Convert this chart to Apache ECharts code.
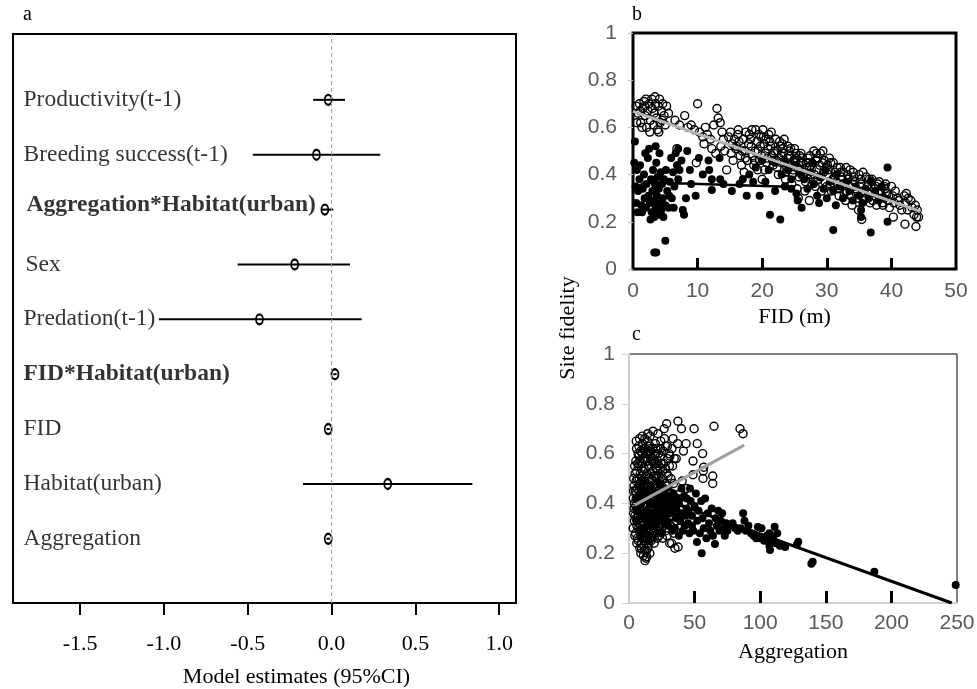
<!DOCTYPE html>
<html><head><meta charset="utf-8">
<script src="https://cdn.jsdelivr.net/npm/echarts@6/dist/echarts.min.js"></script>
<style>html,body{margin:0;padding:0;background:#fff}#c{width:977px;height:689px}</style>
</head><body><div id="c"></div>
<script>
// ---------- Panel a: model estimates (top to bottom) ----------
const termNames = ['Productivity(t-1)','Breeding success(t-1)','Aggregation*Habitat(urban)','Sex','Predation(t-1)','FID*Habitat(urban)','FID','Habitat(urban)','Aggregation'];
const boldTerms = ['Aggregation*Habitat(urban)','FID*Habitat(urban)'];
const estimates = [-0.02,-0.09,-0.04,-0.22,-0.43,0.02,-0.02,0.335,-0.02];
const ciLow     = [-0.11,-0.47,-0.06,-0.56,-1.03,0.01,-0.03,-0.17,-0.03];
const ciHigh    = [ 0.08, 0.29, 0.01, 0.11, 0.18,0.03,-0.01, 0.84,-0.01];
const estTicks  = [-1.5,-1.0,-0.5,0.0,0.5,1.0];

// ---------- Panel b: site fidelity vs FID ----------
const fidOpen = [
[0.5,0.69],[0.8,0.66],[1.0,0.70],[1.2,0.62],[1.5,0.68],[1.7,0.71],[1.9,0.65],[2.1,0.60],[2.3,0.67],[2.5,0.70],[2.7,0.63],[2.9,0.72],[3.0,0.68],[3.2,0.61],[3.3,0.66],[3.5,0.70],[3.6,0.64],[3.8,0.59],[3.9,0.69],[4.1,0.72],[4.2,0.62],[4.4,0.67],[4.6,0.70],[4.8,0.65],[5.0,0.61],[5.2,0.69],[0.6,0.62],[1.4,0.60],[2.0,0.72],[2.6,0.58],[3.4,0.73],[4.0,0.58],[4.5,0.63],[5.5,0.66],[1.1,0.67],[1.8,0.69],
[6.5,0.63],[7.2,0.61],[8.0,0.65],[8.5,0.60],[9.0,0.61],[9.5,0.59],[10.0,0.70],[10.3,0.58],[10.8,0.56],[11.2,0.60],[11.5,0.57],[12.0,0.55],[12.5,0.61],[13.0,0.68],[13.2,0.64],[13.5,0.62],[13.8,0.58],[14.0,0.55],[11.0,0.53],[12.2,0.51],[12.8,0.49],[14.5,0.42],[6.8,0.51],[9.8,0.45],[13.6,0.52],[14.2,0.50],
[15.1,0.58],[15.4,0.53],[15.2,0.49],[15.7,0.55],[15.5,0.46],[16.2,0.57],[16.0,0.52],[16.6,0.48],[16.4,0.54],[16.8,0.44],
[17.1,0.55],[17.3,0.50],[17.5,0.58],[17.7,0.46],[17.2,0.41],[17.9,0.53],[18.0,0.57],[18.3,0.52],[18.5,0.48],[18.2,0.55],[18.7,0.44],[18.9,0.50],
[19.0,0.59],[19.2,0.54],[19.4,0.50],[19.6,0.46],[19.8,0.56],[19.3,0.42],[19.7,0.52],[20.1,0.59],[20.3,0.53],[20.5,0.49],[20.7,0.45],[20.2,0.56],[20.9,0.51],[20.4,0.42],
[21.0,0.57],[21.3,0.52],[21.5,0.48],[21.7,0.44],[21.2,0.54],[21.9,0.50],[21.6,0.46],[22.1,0.55],[22.4,0.50],[22.6,0.47],[22.3,0.43],[22.8,0.52],[22.9,0.48],
[23.1,0.53],[23.3,0.49],[23.5,0.45],[23.7,0.41],[23.2,0.51],[23.9,0.47],[23.6,0.38],[24.0,0.52],[24.3,0.48],[24.5,0.44],[24.7,0.40],[24.2,0.50],[24.9,0.46],[24.6,0.36],
[25.0,0.51],[25.3,0.47],[25.5,0.43],[25.7,0.39],[25.2,0.49],[25.9,0.45],[25.6,0.30],[25.4,0.34],[26.0,0.49],[26.3,0.45],[26.5,0.41],[26.7,0.37],[26.2,0.47],[26.9,0.43],[26.6,0.33],
[27.1,0.47],[27.3,0.43],[27.5,0.40],[27.7,0.36],[27.2,0.45],[27.9,0.38],[28.0,0.50],[28.4,0.49],[28.3,0.46],[28.5,0.42],[28.7,0.38],[28.2,0.35],[28.9,0.44],
[29.0,0.49],[29.3,0.45],[29.5,0.41],[29.7,0.37],[29.2,0.33],[29.9,0.43],[30.1,0.44],[30.3,0.40],[30.5,0.36],[30.7,0.33],[30.2,0.42],[30.9,0.38],
[31.0,0.45],[31.3,0.41],[31.5,0.37],[31.7,0.34],[31.2,0.39],[31.9,0.31],[32.1,0.43],[32.3,0.39],[32.5,0.36],[32.7,0.32],[32.2,0.41],[32.9,0.29],
[33.0,0.43],[33.3,0.38],[33.5,0.35],[33.7,0.31],[33.2,0.40],[33.9,0.27],[34.1,0.41],[34.3,0.37],[34.5,0.34],[34.7,0.30],[34.2,0.39],[34.9,0.25],
[35.0,0.40],[35.3,0.36],[35.5,0.33],[35.7,0.29],[35.2,0.38],[35.4,0.21],[36.1,0.39],[36.3,0.35],[36.5,0.32],[36.7,0.28],[36.9,0.37],
[37.0,0.38],[37.3,0.34],[37.5,0.31],[37.7,0.27],[37.9,0.36],[38.1,0.37],[38.3,0.33],[38.5,0.30],[38.7,0.27],[38.9,0.35],
[39.1,0.36],[39.3,0.32],[39.5,0.29],[39.7,0.26],[40.0,0.35],[40.2,0.31],[40.4,0.28],[40.3,0.22],[41.0,0.30],[41.3,0.27],[41.6,0.25],
[42.0,0.31],[42.3,0.32],[42.2,0.28],[42.5,0.25],[42.1,0.19],[43.0,0.29],[43.2,0.26],[43.5,0.23],[43.8,0.18],[43.9,0.22],[44.0,0.25],[44.2,0.22],[43.7,0.27],
[14.8,0.56],[15.9,0.51],[16.3,0.59],[16.9,0.50],[17.4,0.47],[18.4,0.59],[18.8,0.46],[19.5,0.57],[19.9,0.48],[20.6,0.55],[20.8,0.47],[21.4,0.58],[21.8,0.49],[22.2,0.46],[22.7,0.54],[23.0,0.45],[23.4,0.55],[23.8,0.43],[24.4,0.51],[24.8,0.42],[25.1,0.45],[25.8,0.48],[26.4,0.39],[26.8,0.45],[27.4,0.48],[27.6,0.42],[28.1,0.40],[28.6,0.47],[29.1,0.39],[29.6,0.46],[30.0,0.35],[30.6,0.45],[31.1,0.36],[31.6,0.43],[32.0,0.34],[32.6,0.41],[33.1,0.33],[33.6,0.42],[34.0,0.36],[34.6,0.32],[35.1,0.35],[35.6,0.41],[36.0,0.30],[36.6,0.38],[37.1,0.29],[37.6,0.35],[38.0,0.32],[38.6,0.28],[39.0,0.34],[39.6,0.31],[40.6,0.33],[41.2,0.29],[42.6,0.30],[29.4,0.50],[30.4,0.47],[27.3,0.29],[22.5,0.40],[20.0,0.38]
];
const fidFilled = [
[0.3,0.54],[0.2,0.45],[0.4,0.35],[0.5,0.28],[0.6,0.42],[0.8,0.33],[1.0,0.38],[1.1,0.44],[1.3,0.27],[1.4,0.24],[1.5,0.34],[1.7,0.40],[1.8,0.30],[2.0,0.26],[2.1,0.36],[2.3,0.47],[2.4,0.31],[2.5,0.51],[2.6,0.28],[2.8,0.38],[2.9,0.24],[3.0,0.33],[3.1,0.42],[3.2,0.29],[3.3,0.22],[3.4,0.36],[3.5,0.26],[3.6,0.45],[3.7,0.31],[3.8,0.39],[3.9,0.23],[4.0,0.34],[4.1,0.49],[4.2,0.28],[4.3,0.41],[4.4,0.25],[4.5,0.36],[4.6,0.30],[4.8,0.38],[5.0,0.27],[5.1,0.42],[5.3,0.33],[5.5,0.26],[5.7,0.37],[5.9,0.47],[6.0,0.30],[6.2,0.41],[6.4,0.35],[6.6,0.49],[6.8,0.44],[7.0,0.38],[7.2,0.42],[7.5,0.46],[1.9,0.49],[2.7,0.21],[3.5,0.52],[4.7,0.22],[0.7,0.24],[5.6,0.31],[6.3,0.26],
[3.3,0.07],[3.6,0.07],[5.0,0.12],[7.7,0.25],[7.9,0.23],[8.4,0.50],[8.2,0.30],[7.0,0.51],[8.8,0.42],
[9.7,0.31],[10.2,0.47],[11.7,0.46],[11.8,0.42],[12.2,0.38],[12.2,0.335],[13.4,0.47],[13.5,0.38],[14.0,0.36],[15.3,0.33],[16.5,0.36],[17.6,0.31],[18.6,0.37],[19.6,0.31],[21.2,0.23],[22.8,0.21],[20.5,0.37],[22.0,0.33],[23.5,0.35],[24.5,0.34],[25.3,0.32],[25.5,0.29],[10.8,0.40],[9.0,0.36],
[26.1,0.26],[28.8,0.28],[31.4,0.27],[31.0,0.165],[36.8,0.155],[39.4,0.43],[39.4,0.20],[35.3,0.25],[35.3,0.22],
[26.5,0.38],[27.0,0.34],[27.5,0.41],[28.0,0.36],[28.5,0.31],[29.0,0.39],[29.5,0.34],[30.0,0.30],[30.5,0.37],[31.0,0.33],[31.5,0.40],[32.0,0.35],[32.5,0.30],[33.0,0.37],[33.5,0.33],[34.0,0.29],[34.5,0.35],[35.0,0.31],[35.5,0.28],[36.0,0.34],[36.5,0.30],[37.0,0.37],[37.5,0.33],[38.0,0.29],[38.5,0.35],[39.0,0.30],[24.0,0.42],[25.0,0.44],[23.0,0.40],[22.0,0.45],[21.0,0.42],[20.0,0.46],[19.0,0.43],[18.0,0.40],[17.0,0.38],[26.0,0.40],[27.8,0.45],[29.8,0.42],[24.5,0.38],[23.5,0.46]
];
const fidOpenFit   = [[0,0.668],[44.5,0.244]];
const fidFilledFit = [[0,0.335],[1.5,0.36],[3,0.367],[8,0.362],[25,0.347]];

// ---------- Panel c: site fidelity vs Aggregation ----------
const aggOpen = [
[3.2,0.30],[3.5,0.36],[3.3,0.42],[3.8,0.47],[3.6,0.50],[4.0,0.40],[4.1,0.33],
[5.0,0.28],[5.3,0.34],[5.1,0.39],[5.6,0.44],[5.4,0.49],[5.8,0.53],[5.2,0.57],[5.7,0.62],[5.5,0.65],[6.0,0.31],[6.2,0.46],[6.1,0.37],
[7.0,0.25],[7.3,0.30],[7.1,0.35],[7.6,0.41],[7.4,0.45],[7.8,0.50],[7.2,0.55],[7.7,0.59],[7.5,0.63],[8.0,0.66],[8.2,0.22],[8.1,0.38],[8.3,0.48],
[9.0,0.20],[9.3,0.24],[9.1,0.29],[9.6,0.33],[9.4,0.37],[9.8,0.42],[9.2,0.46],[9.7,0.51],[9.5,0.56],[10.0,0.60],[10.2,0.64],[10.1,0.67],[10.3,0.27],[10.4,0.53],
[11.0,0.19],[11.3,0.23],[11.1,0.28],[11.6,0.32],[11.4,0.36],[11.8,0.40],[11.2,0.44],[11.7,0.49],[11.5,0.54],[12.0,0.58],[12.2,0.62],[12.1,0.66],[12.3,0.47],
[13.0,0.18],[13.3,0.21],[13.1,0.26],[13.6,0.30],[13.4,0.35],[13.8,0.39],[13.2,0.43],[13.7,0.48],[13.5,0.52],[14.0,0.57],[14.2,0.61],[14.1,0.65],[14.3,0.68],
[15.0,0.24],[15.3,0.28],[15.1,0.33],[15.6,0.38],[15.4,0.42],[15.8,0.46],[15.2,0.50],[15.7,0.55],[16.0,0.59],[16.2,0.63],[16.1,0.67],
[17.0,0.26],[17.3,0.31],[17.1,0.36],[17.6,0.40],[17.4,0.45],[17.8,0.49],[18.0,0.53],[18.2,0.58],[18.1,0.62],[18.3,0.69],
[19.0,0.28],[19.3,0.32],[19.1,0.37],[19.6,0.41],[19.4,0.46],[19.8,0.51],[20.0,0.56],[20.2,0.60],[20.1,0.64],
[21.0,0.29],[21.3,0.34],[21.1,0.39],[21.6,0.43],[21.4,0.48],[21.8,0.53],[22.0,0.57],[22.2,0.62],[22.1,0.68],
[23.0,0.27],[23.3,0.33],[23.1,0.38],[23.6,0.44],[23.4,0.49],[23.8,0.54],[24.0,0.59],[24.2,0.65],
[25.0,0.30],[25.5,0.35],[25.2,0.40],[26.0,0.45],[25.8,0.50],[26.4,0.56],[26.2,0.61],[27.0,0.66],[26.8,0.70],
[28.0,0.29],[28.5,0.36],[28.2,0.41],[29.0,0.47],[28.8,0.52],[29.5,0.58],[29.3,0.63],[28.7,0.72],
[31.0,0.24],[31.8,0.31],[31.4,0.38],[32.5,0.44],[32.0,0.50],[33.2,0.55],[32.8,0.62],[33.6,0.66],
[35.0,0.22],[35.8,0.33],[36.4,0.42],[36.0,0.58],[37.0,0.64],[37.3,0.73],
[39.0,0.44],[40.5,0.49],[41.5,0.61],[40.0,0.70],[43.5,0.64],
[48.8,0.57],[49.6,0.70],[56.1,0.60],[56.9,0.545],[56.6,0.53],[63.8,0.51],[63.8,0.48],[64.8,0.71],[84.6,0.70],[86.9,0.68],[56.4,0.50],[48.8,0.515],[32.5,0.24],[37.4,0.225],[13.5,0.186],[52.0,0.64],[44.0,0.46],[42.0,0.40],
[4.5,0.35],[4.8,0.45],[4.6,0.52],[6.5,0.42],[6.7,0.33],[6.9,0.60],[8.5,0.28],[8.7,0.36],[8.9,0.43],[8.6,0.52],[8.8,0.61],[10.6,0.31],[10.8,0.39],[10.7,0.45],[10.5,0.58],[12.5,0.25],[12.7,0.34],[12.6,0.42],[12.8,0.51],[12.9,0.60],[14.5,0.27],[14.7,0.37],[14.6,0.45],[14.8,0.55],[14.9,0.63],[16.5,0.29],[16.7,0.35],[16.6,0.44],[16.8,0.52],[16.4,0.61],[18.6,0.27],[18.8,0.34],[18.5,0.43],[18.7,0.51],[18.9,0.56],[20.5,0.30],[20.7,0.40],[20.6,0.47],[20.8,0.54],[20.4,0.62],[22.5,0.31],[22.7,0.37],[22.6,0.45],[22.8,0.51],[22.4,0.60],[24.5,0.30],[24.7,0.36],[24.6,0.42],[24.8,0.47],[24.4,0.56],[27.0,0.33],[27.4,0.38],[27.2,0.43],[27.6,0.48],[27.8,0.54],[30.0,0.34],[30.5,0.39],[30.2,0.45],[30.8,0.55],[30.4,0.60],[33.0,0.35],[33.5,0.40],[34.0,0.48],[34.5,0.58],[6.3,0.26],[11.9,0.21],[14.4,0.22],[16.9,0.25],[19.2,0.24],[21.5,0.26],[25.5,0.26],[29.0,0.27],[34.0,0.28],[38.5,0.30],[37.0,0.36],[39.5,0.38],
[3.4,0.45],[3.9,0.38],[4.3,0.55],[4.4,0.27],[5.9,0.24],[6.4,0.50],[6.6,0.56],[7.9,0.32],[8.4,0.57],[9.9,0.49],[10.9,0.62],[11.6,0.26],[12.4,0.39],[13.9,0.33],[14.0,0.46],[15.5,0.61],[16.3,0.32],[17.5,0.57],[17.9,0.28],[18.4,0.47],[19.7,0.59],[20.3,0.35],[21.2,0.51],[21.9,0.41],[22.9,0.55],[23.5,0.29],[24.1,0.62],[25.7,0.53],[26.6,0.37],[27.9,0.63],[28.4,0.45],[29.8,0.51],[31.2,0.59],[32.2,0.35],[12.2,0.17],[15.9,0.20],[9.6,0.22]
];
const aggFilled = [
[6,0.38],[8,0.42],[10,0.35],[12,0.45],[14,0.31],[16,0.40],[18,0.36],[20,0.44],[22,0.33],[24,0.39],[26,0.43],[28,0.35],[30,0.41],[32,0.37],[34,0.44],[36,0.34],[38,0.40],[40,0.46],[9,0.27],[15,0.25],[25,0.28],[35,0.30],[30,0.31],
[12,0.30],[17,0.33],[21,0.37],[27,0.32],[31,0.36],[33,0.29],[36,0.38],[39,0.33],[41,0.29],[43,0.35],[46,0.28],[48,0.31],[38,0.27],[44,0.42],[40,0.36],
[5,0.42],[5.5,0.33],[7,0.47],[7.5,0.29],[9.5,0.40],[11,0.49],[11.5,0.34],[13,0.37],[13.5,0.44],[15.5,0.35],[16.5,0.47],[18.5,0.31],[19,0.40],[20.5,0.34],[22.5,0.42],[23,0.48],[24.5,0.35],[26.5,0.38],[27.5,0.46],[29,0.33],[31.5,0.43],[33.5,0.39],[35.5,0.42],[37.5,0.35],[39,0.42],[42.5,0.31],[45.5,0.36],[10.5,0.43],[14.5,0.41],[19.5,0.36],[25.5,0.41],[29.5,0.38],
[42,0.43],[44,0.38],[45,0.32],[46.5,0.46],[47,0.41],[48,0.35],[49,0.29],[50,0.39],[51,0.44],[51.8,0.245],[52,0.33],[53,0.37],[54,0.28],[55,0.41],[55.4,0.20],[56,0.34],[57,0.30],[58,0.42],[59,0.26],[60,0.36],[61,0.32],[62,0.29],[63,0.38],[64,0.27],[65.5,0.237],[66,0.34],[67,0.31],[68,0.37],[69,0.29],[70,0.33],[71,0.36],[72,0.30],[73,0.27],[74,0.32],[75,0.29],[77,0.31],[79,0.32],[81,0.30],[83,0.29],[85,0.30],[87,0.36],[88,0.33],[89,0.29],[91,0.31],[93,0.28],[95,0.27],[97,0.26],[98.2,0.305],[100,0.26],[101,0.30],[103,0.25],[105,0.27],[107,0.28],[107,0.23],[107.5,0.213],[108,0.25],[110,0.26],[111,0.306],[112,0.24],[113,0.28],[115,0.23],[119,0.225],[129,0.246],[128,0.235],[140,0.166],[139,0.158],[187,0.126],[249,0.072]
];
const aggOpenFit   = [[4.3,0.393],[87.8,0.634]];
const aggFilledFit = [[30,0.41],[246,0]];

// ---------- build ----------
const SERIF = 'Liberation Serif';
const SANS = 'Liberation Sans';
const yTop = 10.2, yBot = -0.17;
const rowY = termNames.map((n,i)=>termNames.length - i);

const chart = echarts.init(document.getElementById('c'), null, {renderer:'canvas'});
const openStyle = {color:'rgba(0,0,0,0)', borderColor:'#000', borderWidth:1.4, opacity:1};
const filledStyle = {color:'#000', opacity:1};
const greyLabel = {color:'#595959', fontFamily:SANS, fontSize:21};
const gridBase = {show:true, borderColor:'#000', backgroundColor:'rgba(0,0,0,0)', containLabel:false, outerBoundsMode:'none'};

const option = {
  animation:false,
  backgroundColor:'#fff',
  grid:[
    Object.assign({left:13, top:34, width:503, height:569, borderWidth:2}, gridBase),
    Object.assign({left:633, top:33, width:323, height:236, borderWidth:3}, gridBase),
    Object.assign({left:629, top:354, width:328, height:249, borderWidth:1}, gridBase)
  ],
  xAxis:[
    {gridIndex:0, type:'value', position:'bottom', min:-1.9, max:1.1, splitLine:{show:false},
     axisLine:{show:true, onZero:false, lineStyle:{color:'#000', width:2}},
     axisTick:{show:true, inside:false, customValues:estTicks, length:12, lineStyle:{color:'#000', width:2}},
     axisLabel:{customValues:estTicks, margin:30, color:'#000', fontFamily:SERIF, fontSize:22, formatter:v=>v.toFixed(1)},
     name:'Model estimates (95%CI)', nameLocation:'middle', nameGap:63,
     nameTextStyle:{color:'#000', fontFamily:SERIF, fontSize:22, padding:[0,0,0,64]}},
    {gridIndex:1, type:'value', min:0, max:50, interval:10, splitLine:{show:false},
     axisLine:{show:false, onZero:false},
     axisTick:{show:true, inside:true, customValues:[10,20,30,40], length:11, lineStyle:{color:'#000', width:3}},
     axisLabel:Object.assign({margin:12}, greyLabel),
     name:'FID (m)', nameLocation:'middle', nameGap:37,
     nameTextStyle:{color:'#000', fontFamily:SERIF, fontSize:22}},
    {gridIndex:2, type:'value', min:0, max:250, interval:50, splitLine:{show:false},
     axisLine:{show:true, onZero:false, lineStyle:{color:'#d0d0d0', width:2}},
     axisTick:{show:true, inside:true, customValues:[50,100,150,200], length:12, lineStyle:{color:'#000', width:3}},
     axisLabel:Object.assign({margin:10}, greyLabel),
     name:'Aggregation', nameLocation:'middle', nameGap:38,
     nameTextStyle:{color:'#000', fontFamily:SERIF, fontSize:22}}
  ],
  yAxis:[
    {gridIndex:0, type:'value', min:yBot, max:yTop, show:false},
    {gridIndex:1, type:'value', min:0, max:1, interval:0.2, splitLine:{show:false},
     axisLine:{show:false, onZero:false},
     axisTick:{show:true, length:5, lineStyle:{color:'#bfbfbf', width:1}},
     axisLabel:Object.assign({margin:16, formatter:v=>String(+v.toFixed(1))}, greyLabel)},
    {gridIndex:2, type:'value', min:0, max:1, interval:0.2, splitLine:{show:false},
     axisLine:{show:true, onZero:false, lineStyle:{color:'#d0d0d0', width:2}},
     axisTick:{show:true, length:7, lineStyle:{color:'#d0d0d0', width:1}},
     axisLabel:Object.assign({margin:14, formatter:v=>String(+v.toFixed(1))}, greyLabel)}
  ],
  graphic:[
    {type:'text', left:23, top:5, style:{text:'a', font:'20px "'+SERIF+'"', fill:'#000'}},
    {type:'text', left:632, top:5, style:{text:'b', font:'20px "'+SERIF+'"', fill:'#000'}},
    {type:'text', left:632, top:325, style:{text:'c', font:'20px "'+SERIF+'"', fill:'#000'}},
    {type:'text', x:568, y:328, rotation:Math.PI/2,
     style:{text:'Site fidelity', font:'22px "'+SERIF+'"', fill:'#000', align:'center', verticalAlign:'middle'}}
  ],
  series:[
    {type:'line', xAxisIndex:0, yAxisIndex:0, data:[[0,yBot],[0,yTop]], symbol:'none', silent:true,
     lineStyle:{color:'#9a9a9a', width:1, type:[4,3]}},
    {type:'custom', xAxisIndex:0, yAxisIndex:0, silent:true,
     data:termNames.map((n,i)=>[ciLow[i], ciHigh[i], rowY[i]]),
     encode:{x:[0,1], y:2},
     renderItem:(params, api)=>{
       const a = api.coord([api.value(0), api.value(2)]);
       const b = api.coord([api.value(1), api.value(2)]);
       return {type:'line', shape:{x1:a[0], y1:a[1], x2:b[0], y2:b[1]}, style:{stroke:'#000', lineWidth:2}};
     }},
    {type:'scatter', xAxisIndex:0, yAxisIndex:0, silent:true,
     data:termNames.map((n,i)=>[estimates[i], rowY[i]]),
     symbol:'circle', symbolSize:[7,10], itemStyle:{color:'rgba(0,0,0,0)', borderColor:'#000', borderWidth:2, opacity:1}},
    {type:'scatter', xAxisIndex:0, yAxisIndex:0, silent:true, clip:false,
     symbolSize:1, itemStyle:{color:'rgba(0,0,0,0)'},
     data:termNames.map((n,i)=>({value:[-1.9, rowY[i]], name:n,
       label:{fontWeight: boldTerms.includes(n) ? 'bold' : 'normal', offset: i===2 ? [3,-5] : (i===3 ? [2,0] : [0,0])}})),
     label:{show:true, position:'right', distance:10, formatter:p=>p.name, color:'#000', fontFamily:SERIF, fontSize:23.5}},
    {type:'scatter', xAxisIndex:1, yAxisIndex:1, data:fidFilled, symbolSize:8, itemStyle:filledStyle, silent:true},
    {type:'scatter', xAxisIndex:1, yAxisIndex:1, data:fidOpen, symbolSize:8, itemStyle:openStyle, silent:true},
    {type:'line', xAxisIndex:1, yAxisIndex:1, data:fidOpenFit, symbol:'none', lineStyle:{color:'#b4b4b4', width:3}, silent:true},
    {type:'line', xAxisIndex:1, yAxisIndex:1, data:fidFilledFit, symbol:'none', smooth:true, lineStyle:{color:'#000', width:2.5}, silent:true},
    {type:'scatter', xAxisIndex:2, yAxisIndex:2, data:aggFilled, symbolSize:8, itemStyle:filledStyle, silent:true},
    {type:'scatter', xAxisIndex:2, yAxisIndex:2, data:aggOpen, symbolSize:8, itemStyle:openStyle, silent:true},
    {type:'line', xAxisIndex:2, yAxisIndex:2, data:aggOpenFit, symbol:'none', lineStyle:{color:'#a0a0a0', width:3}, silent:true},
    {type:'line', xAxisIndex:2, yAxisIndex:2, data:aggFilledFit, symbol:'none', lineStyle:{color:'#000', width:3}, silent:true}
  ]
};
chart.setOption(option);
</script>
</body></html>
